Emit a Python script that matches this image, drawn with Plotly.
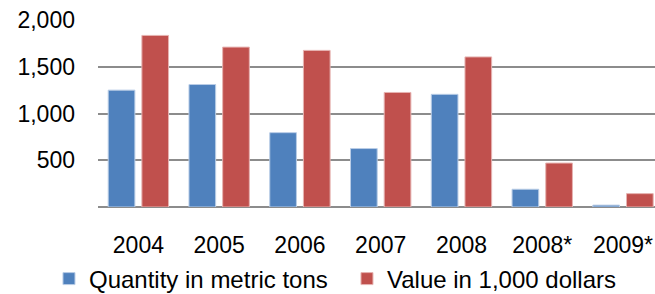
import plotly.graph_objects as go

categories = ["2004", "2005", "2006", "2007", "2008", "2008*", "2009*"]
quantity_tons = [1250, 1310, 795, 625, 1205, 190, 20]
value_kusd = [1835, 1710, 1675, 1225, 1605, 470, 143]
y_tick_vals = [500, 1000, 1500, 2000]
y_tick_text = ["500", "1,000", "1,500", "2,000"]

FONT = "Liberation Sans, Arial, sans-serif"

fig = go.Figure()
fig.add_trace(go.Bar(
    x=categories, y=quantity_tons, name="Quantity in metric tons",
    marker=dict(color="#4F81BD", line=dict(color="#b9cde6", width=1)),
))
fig.add_trace(go.Bar(
    x=categories, y=value_kusd, name="Value in 1,000 dollars",
    marker=dict(color="#C0504D", line=dict(color="#e6b3b1", width=1)),
))

fig.update_layout(
    width=655, height=294,
    margin=dict(l=98, r=0, t=20, b=87, pad=0, autoexpand=False),
    paper_bgcolor="white", plot_bgcolor="white",
    barmode="group", bargap=0.166, bargroupgap=0.208,
    font=dict(family=FONT, size=23, color="black"),
    showlegend=True,
    legend=dict(orientation="h", x=-0.088, xanchor="left", y=-0.385, yanchor="middle",
                entrywidth=253, entrywidthmode="pixels",
                font=dict(family=FONT, size=24, color="black"),
                bgcolor="rgba(0,0,0,0)", itemclick=False),
    xaxis=dict(type="category", range=[-0.5, 6.396], showgrid=False, showline=False,
               zeroline=False, ticks="", ticklabelstandoff=22, automargin=False,
               ticklabeloverflow="allow",
               tickfont=dict(family=FONT, size=23, color="black")),
    yaxis=dict(range=[0, 2000], tickvals=y_tick_vals, ticktext=y_tick_text,
               showgrid=True, gridcolor="#8c8c8c", gridwidth=1.5,
               zeroline=True, zerolinecolor="#8c8c8c", zerolinewidth=2,
               showline=False, ticks="", ticklabelstandoff=22, automargin=False,
               tickfont=dict(family=FONT, size=23, color="black")),
)

fig.write_html(
    "out.html",
    config={"displayModeBar": False},
    post_script="document.body.style.margin='0';document.body.style.padding='0';document.body.style.overflow='hidden';",
)
